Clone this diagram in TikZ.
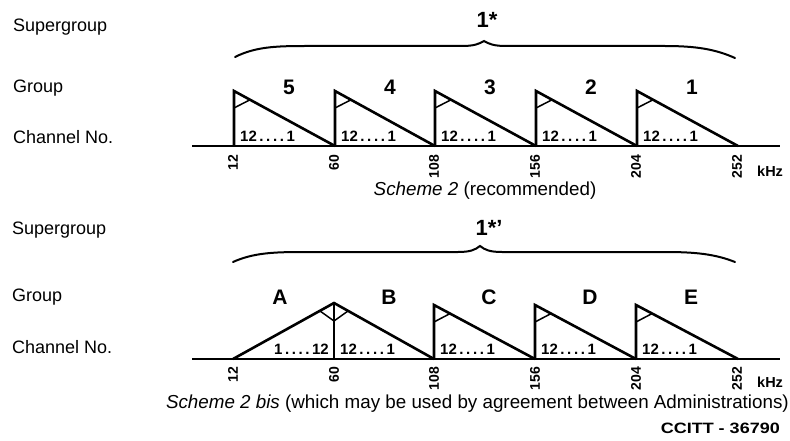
\documentclass[tikz,border=0pt]{standalone}
\usepackage{fontspec}
\setmainfont{Liberation Sans}
\newcommand{\chdots}{12\hspace{2.6pt}.\hspace{2.6pt}.\hspace{2.6pt}.\hspace{2.6pt}.\hspace{2.6pt}1}
\newcommand{\chdotsr}{1\hspace{2.6pt}.\hspace{2.6pt}.\hspace{2.6pt}.\hspace{2.6pt}.\hspace{2.6pt}12}
\begin{document}
\begin{tikzpicture}[x=1pt,y=-1pt,
  lbl/.style={anchor=west, inner sep=0pt, font=\fontsize{18}{18}\selectfont},
  grp/.style={inner sep=0pt, font=\bfseries\fontsize{21}{21}\selectfont},
  chn/.style={inner sep=0pt, font=\bfseries\fontsize{15}{15}\selectfont},
  ticklbl/.style={rotate=90, anchor=east, inner sep=0pt, font=\bfseries\fontsize{14}{14}\selectfont},
  sg/.style={inner sep=0pt, font=\bfseries\fontsize{22}{22}\selectfont},
  captxt/.style={inner sep=0pt, font=\fontsize{18.8}{18.8}\selectfont},
  ln/.style={line width=2.6pt, line join=miter},
  flagln/.style={line width=1.5pt},
  brace/.style={line width=2pt, line cap=round}]
\useasboundingbox (0,0) rectangle (790,441);

% left labels
\node[lbl] (sgA) at (13,27) {Supergroup};
\node[lbl] (grA) at (13,88) {Group};
\node[lbl] (chA) at (13,137) {Channel No.};
\node[lbl] (sgB) at (12,230) {Supergroup};
\node[lbl] (grB) at (12,297) {Group};
\node[lbl] (chB) at (12,347) {Channel No.};

% ===== Scheme 2 =====
\draw[brace] (235,57) .. controls (255,47) and (275,46) .. (305,46) -- (462,46)
  .. controls (474,46) and (479,44) .. (484,41)
  .. controls (489,44) and (494,46) .. (506,46) -- (665,46)
  .. controls (695,46) and (715,49) .. (735,58);
\node[sg] (sgtop) at (487,20) {1*};

\draw[ln] (192,146) -- (780,146);
\foreach \xa/\xb/\g [count=\i] in {234/335/5,335/435/4,435/536/3,536/637/2,637/738/1}{
  \draw[ln] (\xa,146) -- (\xa,91) -- (\xb,146);
  \draw[flagln] (\xa,108) -- (\xa+16,99.8);
  \node[chn, anchor=south west] (cha\i) at (\xa+6,142) {\chdots};
  \node[grp] (ga\i) at (\xa+55,87) {\g};
}
\foreach \x/\f [count=\i] in {233/12,334/60,434/108,535/156,636/204,737/252}{
  \node[ticklbl] (ta\i) at (\x,155) {\f};
}
\node[chn, anchor=west, font=\bfseries\fontsize{14.5}{14.5}\selectfont] (khzA) at (757,171) {kHz};
\node[captxt] (capA) at (485,191) {\textit{Scheme 2} (recommended)};

% ===== Scheme 2 bis =====
\draw[brace] (233,262) .. controls (253,253) and (273,252) .. (303,252) -- (458,252)
  .. controls (470,252) and (475,250) .. (480,246)
  .. controls (485,250) and (490,252) .. (502,252) -- (665,252)
  .. controls (695,252) and (715,254) .. (735,262);
\node[sg] (sgbot) at (489,228) {1*'};

\draw[ln] (192,359) -- (780,359);
\draw[ln] (233,359) -- (334,303) -- (434,359);
\draw[ln] (334,303) -- (334,359);
\draw[flagln] (320,311) -- (334,321) -- (348,311);
\node[chn, anchor=south east] (chb0) at (329,355) {\chdotsr};
\node[chn, anchor=south west] (chb1) at (340,355) {\chdots};
\node[grp] (gbA) at (280,297) {A};
\node[grp] (gbB) at (389,297) {B};
\foreach \xa/\xb/\g [count=\i] in {434/535/C,535/636/D,636/738/E}{
  \draw[ln] (\xa,359) -- (\xa,305) -- (\xb,359);
  \draw[flagln] (\xa,322) -- (\xa+16,313.6);
  \node[chn, anchor=south west] (chc\i) at (\xa+6,355) {\chdots};
  \node[grp] (gc\i) at (\xa+55,297) {\g};
}
\foreach \x/\f [count=\i] in {233/12,334/60,434/108,535/156,636/204,737/252}{
  \node[ticklbl] (tb\i) at (\x,367) {\f};
}
\node[chn, anchor=west, font=\bfseries\fontsize{14.5}{14.5}\selectfont] (khzB) at (757,382) {kHz};
\node[captxt, anchor=east] (capB) at (789,404) {\textit{Scheme 2 bis} (which may be used by agreement between Administrations)};
\node[inner sep=0pt, anchor=east, font=\bfseries\fontsize{15}{15}\selectfont] (ccitt) at (780,428) {\scalebox{1.2}[1]{CCITT - 36790}};
\end{tikzpicture}
\end{document}
